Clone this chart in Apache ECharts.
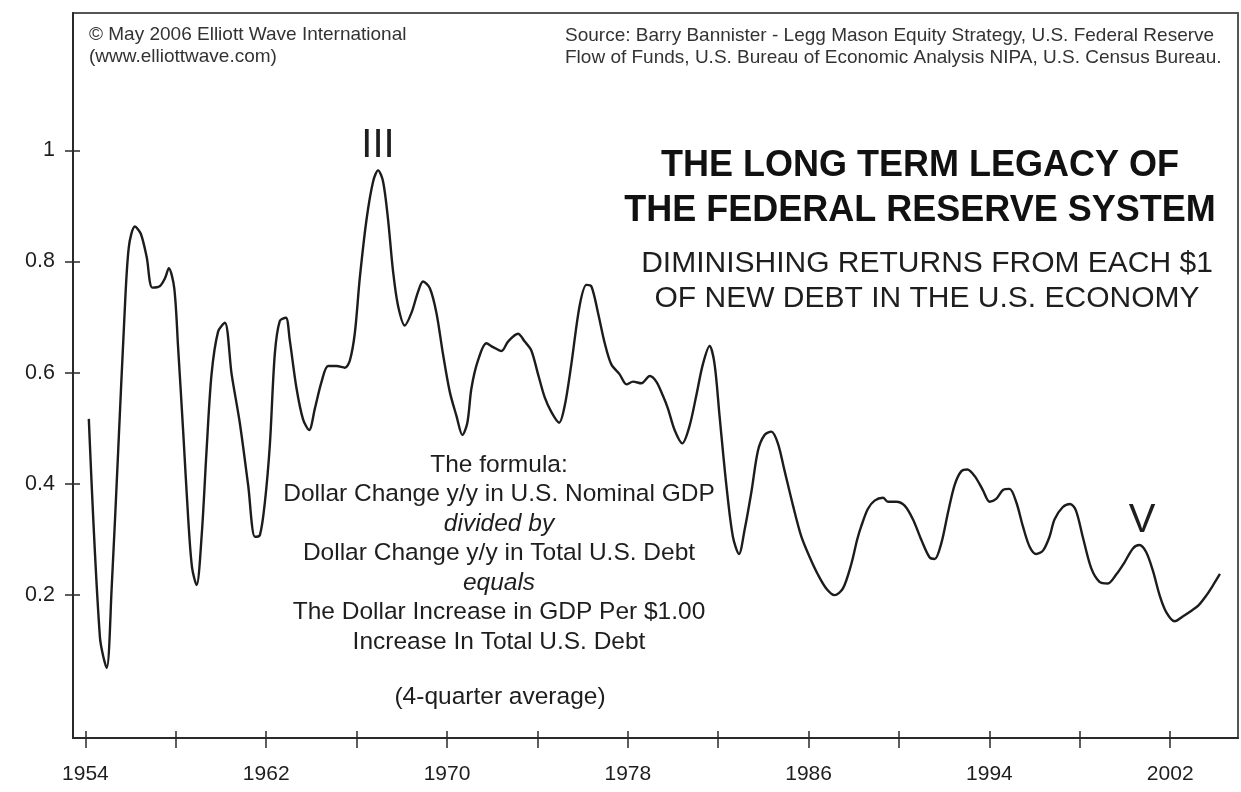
<!DOCTYPE html>
<html>
<head>
<meta charset="utf-8">
<title>The Long Term Legacy of the Federal Reserve System</title>
<script src="https://cdn.jsdelivr.net/npm/echarts@6/dist/echarts.min.js"></script>
<style>
  html, body { margin: 0; padding: 0; background: #fff; }
  #chart { width: 1241px; height: 792px; }
</style>
</head>
<body>
<div id="chart"></div>
<script>
// GDP gained per $1 of new debt, 4-quarter average
const years = [
  1954.15, 1954.64, 1954.94, 1955.16, 1955.45, 1955.72, 1955.92, 1956.19, 1956.45, 1956.71,
  1956.96, 1957.30, 1957.52, 1957.69, 1957.93, 1958.10, 1958.33, 1958.55, 1958.72, 1958.92,
  1959.14, 1959.36, 1959.58, 1959.87, 1960.17, 1960.47, 1960.83, 1961.20, 1961.50, 1961.72,
  1961.94, 1962.16, 1962.38, 1962.60, 1962.87, 1963.04, 1963.34, 1963.63, 1963.90, 1964.15,
  1964.45, 1964.74, 1965.11, 1965.48, 1965.70, 1965.92, 1966.14, 1966.44, 1966.73, 1966.95,
  1967.17, 1967.39, 1967.61, 1967.83, 1968.13, 1968.43, 1968.72, 1968.94, 1969.24, 1969.53,
  1969.82, 1970.12, 1970.42, 1970.68, 1970.90, 1971.08, 1971.37, 1971.74, 1972.04, 1972.41,
  1972.70, 1973.14, 1973.44, 1973.73, 1974.03, 1974.32, 1974.62, 1974.96, 1975.21, 1975.50,
  1975.87, 1976.17, 1976.39, 1976.68, 1976.98, 1977.27, 1977.64, 1977.94, 1978.23, 1978.60,
  1978.97, 1979.26, 1979.55, 1979.78, 1980.07, 1980.41, 1980.73, 1981.03, 1981.32, 1981.62,
  1981.84, 1982.06, 1982.36, 1982.65, 1982.92, 1983.17, 1983.47, 1983.76, 1984.05, 1984.35,
  1984.64, 1984.94, 1985.31, 1985.68, 1986.05, 1986.41, 1986.78, 1987.15, 1987.52, 1987.89,
  1988.15, 1988.33, 1988.62, 1988.92, 1989.29, 1989.51, 1989.88, 1990.25, 1990.62, 1990.99,
  1991.35, 1991.58, 1991.87, 1992.17, 1992.46, 1992.76, 1993.02, 1993.35, 1993.71, 1994.01,
  1994.30, 1994.60, 1994.89, 1995.19, 1995.48, 1995.78, 1996.07, 1996.37, 1996.66, 1996.88,
  1997.24, 1997.57, 1997.83, 1998.13, 1998.50, 1998.87, 1999.24, 1999.61, 1999.98, 2000.35,
  2000.64, 2000.94, 2001.24, 2001.53, 2001.83, 2002.20, 2002.57, 2002.94, 2003.24, 2003.61,
  2003.90, 2004.20
];
const ratio = [
  0.517, 0.125, 0.069, 0.212, 0.460, 0.696, 0.826, 0.863, 0.850, 0.808,
  0.753, 0.756, 0.770, 0.788, 0.752, 0.646, 0.491, 0.336, 0.249, 0.218,
  0.305, 0.460, 0.597, 0.674, 0.690, 0.597, 0.510, 0.398, 0.305, 0.308,
  0.367, 0.470, 0.634, 0.693, 0.699, 0.659, 0.572, 0.516, 0.497, 0.535,
  0.584, 0.612, 0.612, 0.609, 0.622, 0.671, 0.770, 0.876, 0.944, 0.964,
  0.944, 0.876, 0.783, 0.721, 0.685, 0.708, 0.746, 0.764, 0.752, 0.708,
  0.634, 0.566, 0.522, 0.488, 0.510, 0.572, 0.622, 0.653, 0.646, 0.639,
  0.656, 0.670, 0.656, 0.640, 0.597, 0.556, 0.529, 0.510, 0.541, 0.615,
  0.721, 0.758, 0.755, 0.708, 0.653, 0.615, 0.597, 0.579, 0.584, 0.581,
  0.594, 0.584, 0.559, 0.535, 0.497, 0.473, 0.504, 0.559, 0.615, 0.648,
  0.615, 0.522, 0.398, 0.305, 0.274, 0.318, 0.386, 0.460, 0.488, 0.494,
  0.473, 0.423, 0.361, 0.305, 0.268, 0.237, 0.212, 0.200, 0.212, 0.256,
  0.300, 0.324, 0.355, 0.370, 0.375, 0.368, 0.368, 0.361, 0.336, 0.299,
  0.268, 0.265, 0.293, 0.349, 0.398, 0.423, 0.426, 0.414, 0.389, 0.368,
  0.373, 0.389, 0.391, 0.367, 0.324, 0.287, 0.274, 0.280, 0.305, 0.336,
  0.358, 0.364, 0.352, 0.305, 0.249, 0.224, 0.221, 0.237, 0.259, 0.284,
  0.290, 0.277, 0.243, 0.200, 0.169, 0.153, 0.162, 0.172, 0.181, 0.200,
  0.218, 0.238
];

const xTicks = [1954, 1958, 1962, 1966, 1970, 1974, 1978, 1982, 1986, 1990, 1994, 1998, 2002];
const xLabels = [1954, 1962, 1970, 1978, 1986, 1994, 2002];
const yTicks = [0.2, 0.4, 0.6, 0.8, 1];

const creditLines = ['© May 2006 Elliott Wave International', '(www.elliottwave.com)'];
const sourceLines = [
  'Source: Barry Bannister - Legg Mason Equity Strategy, U.S. Federal Reserve',
  'Flow of Funds, U.S. Bureau of Economic Analysis NIPA, U.S. Census Bureau.'
];
const titleLines = ['THE LONG TERM LEGACY OF', 'THE FEDERAL RESERVE SYSTEM'];
const subtitleLines = ['DIMINISHING RETURNS FROM EACH $1', 'OF NEW DEBT IN THE U.S. ECONOMY'];
const formulaLines = [
  ['The formula:', false],
  ['Dollar Change y/y in U.S. Nominal GDP', false],
  ['divided by', true],
  ['Dollar Change y/y in Total U.S. Debt', false],
  ['equals', true],
  ['The Dollar Increase in GDP Per $1.00', false],
  ['Increase In Total U.S. Debt', false]
];
const noteText = '(4-quarter average)';
const waveLabels = [['III', 378, 146], ['V', 1142, 521]];

const FONT = '"Liberation Sans", Arial, Helvetica, sans-serif';
const INK = '#1e1e1e';

function txt(text, x, y, size, opts) {
  opts = opts || {};
  return {
    type: 'text',
    x: x,
    y: y,
    silent: true,
    style: {
      text: text,
      fontFamily: FONT,
      fontSize: size,
      fontWeight: opts.bold ? 'bold' : 'normal',
      fontStyle: opts.italic ? 'italic' : 'normal',
      fill: opts.color || INK,
      align: opts.align || 'center',
      textAlign: opts.align || 'center',
      verticalAlign: 'middle',
      textVerticalAlign: 'middle'
    }
  };
}

const graphics = [];
creditLines.forEach((t, i) => graphics.push(txt(t, 89, 35 + i * 22, 19, { align: 'left', color: '#333' })));
sourceLines.forEach((t, i) => graphics.push(txt(t, 565, 36 + i * 22, 19, { align: 'left', color: '#333' })));
titleLines.forEach((t, i) => graphics.push(txt(t, 920, 166 + i * 45, 36, { bold: true, color: '#111' })));
subtitleLines.forEach((t, i) => graphics.push(txt(t, 927, 264 + i * 35, 30)));
formulaLines.forEach((l, i) => graphics.push(txt(l[0], 499, 465 + i * 29.5, 24.5, { italic: l[1] })));
graphics.push(txt(noteText, 500, 697, 24.5));
waveLabels.forEach(w => graphics.push(txt(w[0], w[1], w[2], 40)));

const xMin = 1953.45, xMax = 2005;
const yMin = -0.057, yMax = 1.247;
const axisColor = '#2a2a2a';

const chart = echarts.init(document.getElementById('chart'), null, { renderer: 'canvas' });
chart.setOption({
  animation: false,
  backgroundColor: '#fff',
  grid: {
    left: 73, right: 3, top: 13, bottom: 54,
    show: true, borderColor: '#555', borderWidth: 2
  },
  xAxis: [{
    type: 'value', min: xMin, max: xMax, position: 'bottom',
    axisLine: { onZero: false, lineStyle: { color: axisColor, width: 2 } },
    axisTick: { customValues: xTicks, length: 10, lineStyle: { color: axisColor, width: 1.5 } },
    axisLabel: {
      customValues: xLabels, margin: 26, fontSize: 21, fontFamily: FONT, color: INK,
      formatter: v => String(Math.round(v))
    },
    splitLine: { show: false }
  }, {
    type: 'value', min: xMin, max: xMax, position: 'bottom',
    axisLine: { show: false, onZero: false },
    axisTick: { inside: true, customValues: xTicks, length: 7, lineStyle: { color: axisColor, width: 1.5 } },
    axisLabel: { show: false },
    splitLine: { show: false }
  }],
  yAxis: [{
    type: 'value', min: yMin, max: yMax, position: 'left',
    axisLine: { show: true, onZero: false, lineStyle: { color: axisColor, width: 2 } },
    axisTick: { show: true, customValues: yTicks, length: 8, lineStyle: { color: axisColor, width: 1.5 } },
    axisLabel: {
      customValues: yTicks, margin: 18, fontSize: 21.5, fontFamily: FONT, color: INK,
      formatter: v => (Math.round(v * 10) / 10).toString()
    },
    splitLine: { show: false }
  }, {
    type: 'value', min: yMin, max: yMax, position: 'left',
    axisLine: { show: false, onZero: false },
    axisTick: { show: true, inside: true, customValues: yTicks, length: 7, lineStyle: { color: axisColor, width: 1.5 } },
    axisLabel: { show: false },
    splitLine: { show: false }
  }],
  series: [{
    type: 'line',
    xAxisIndex: 0,
    yAxisIndex: 0,
    data: years.map((y, i) => [y, ratio[i]]),
    showSymbol: false,
    smooth: 0.3,
    lineStyle: { color: '#1c1c1c', width: 2.4 }
  }],
  graphic: { elements: graphics }
});
</script>
</body>
</html>
